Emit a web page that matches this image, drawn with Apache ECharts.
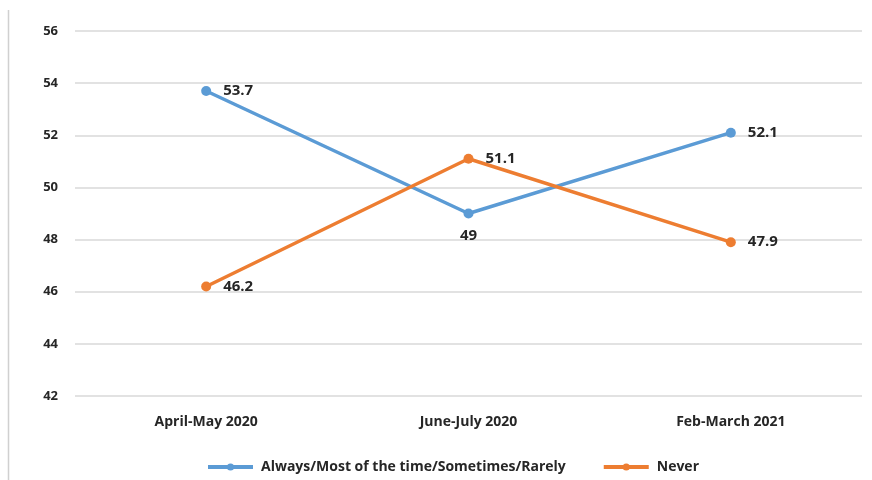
<!DOCTYPE html>
<html>
<head>
<meta charset="utf-8">
<script src="https://cdn.jsdelivr.net/npm/echarts@6/dist/echarts.min.js"></script>
<style>
  html, body { margin: 0; padding: 0; background: #fff; }
  #chart { width: 872px; height: 480px; }
</style>
</head>
<body>
<div id="chart"></div>
<script>
// Survey periods on the category axis
const periods = ['April-May 2020', 'June-July 2020', 'Feb-March 2021'];
// Share of respondents (%) per answer group
const frequentValues = [53.7, 49, 52.1];
const neverValues = [46.2, 51.1, 47.9];
const seriesNames = ['Always/Most of the time/Sometimes/Rarely', 'Never'];

const FONT = '"Open Sans", "Liberation Sans", sans-serif';
const TEXT = '#262626';
const chart = echarts.init(document.getElementById('chart'));

function lineSeries(name, values, color, labelPositions) {
  return {
    name: name,
    type: 'line',
    data: values.map((v, i) => ({
      value: v,
      label: {
        position: labelPositions[i],
        distance: labelPositions[i] === 'bottom' ? 10 : 12
      }
    })),
    symbol: 'circle',
    symbolSize: 10,
    lineStyle: { width: 3.5, color: color },
    itemStyle: { color: color },
    label: {
      show: true,
      color: TEXT,
      fontFamily: FONT,
      fontWeight: 'bold',
      fontSize: 15
    },
    emphasis: { disabled: true },
    animation: false
  };
}

chart.setOption({
  backgroundColor: '#fff',
  grid: { left: 75, right: 10, top: 31, bottom: 84, containLabel: false },
  xAxis: {
    type: 'category',
    data: periods,
    boundaryGap: true,
    axisLine: { show: false },
    axisTick: { show: false },
    axisLabel: {
      color: TEXT,
      fontFamily: FONT,
      fontWeight: 'bold',
      fontSize: 14,
      margin: 19
    }
  },
  yAxis: {
    type: 'value',
    min: 42,
    max: 56,
    interval: 2,
    axisLine: { show: false },
    axisTick: { show: false },
    splitLine: { lineStyle: { color: '#d9d9d9', width: 1.5 } },
    axisLabel: {
      color: TEXT,
      fontFamily: FONT,
      fontWeight: 'bold',
      fontSize: 13,
      margin: 17
    }
  },
  legend: {
    bottom: 1,
    left: 201,
    itemGap: 36,
    itemWidth: 45,
    itemHeight: 9,
    lineStyle: { width: 4 },
    data: seriesNames,
    textStyle: {
      color: TEXT,
      fontFamily: FONT,
      fontWeight: 'bold',
      fontSize: 14,
      padding: [0, 0, 0, 3]
    }
  },
  graphic: [{
    type: 'line',
    shape: { x1: 8.5, y1: 10, x2: 8.5, y2: 480 },
    style: { stroke: '#d0d0d0', lineWidth: 1.5 }
  }],
  series: [
    lineSeries(seriesNames[0], frequentValues, '#5B9BD5', ['right', 'bottom', 'right']),
    lineSeries(seriesNames[1], neverValues, '#ED7D31', ['right', 'right', 'right'])
  ]
});
</script>
</body>
</html>
